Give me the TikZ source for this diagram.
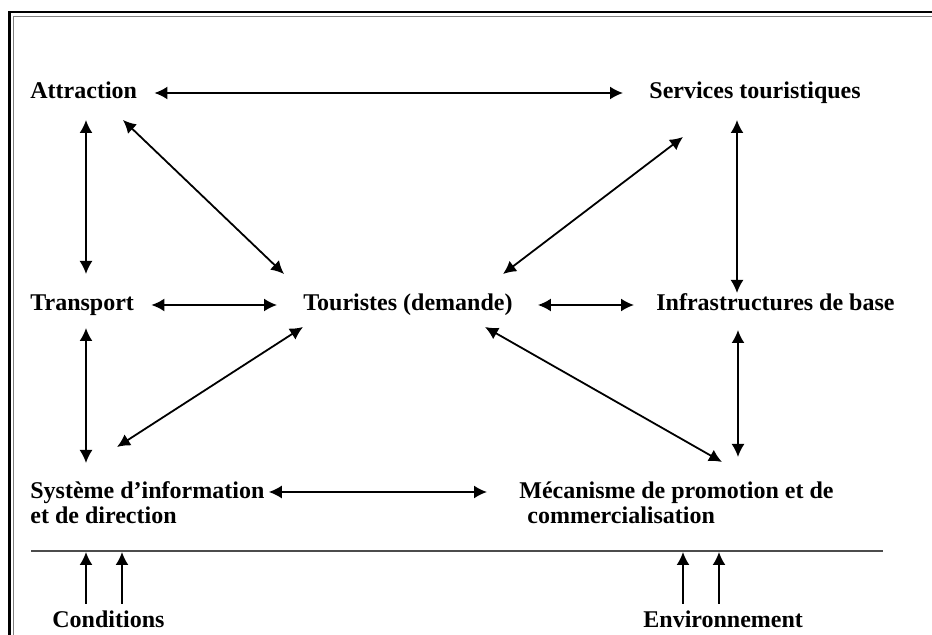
\documentclass[tikz,border=0pt]{standalone}
\usepackage{fontspec}
\setmainfont{Liberation Serif}
\usetikzlibrary{arrows.meta}

\begin{document}
\begin{tikzpicture}[x=0.5pt, y=-0.5pt,
    lbl/.style={anchor=base west, inner sep=0pt, align=left,
      font=\fontsize{12}{12.5}\selectfont\bfseries},
    link/.style={{Latex[length=6.5pt, width=6.5pt]}-{Latex[length=6.5pt, width=6.5pt]}, line width=0.9pt},
    lift/.style={-{Latex[length=6.5pt, width=6.5pt]}, line width=0.9pt}]
    \useasboundingbox (0, 0) rectangle (932, 635);
    % double frame, open to the right and below
    \draw[line width=1.3pt] (9.5, 635)--(9.5, 12)--(932, 12);
    \draw[gray, line width=0.6pt] (13.5, 635)--(13.5, 16.5)--(932, 16.5);
    \node[lbl] (A) at (30, 99){Attraction};
    \node[lbl] (S) at (649, 99){Services touristiques};
    \node[lbl] (T) at (30, 311){Transport};
    \node[lbl] (D) at (303, 311){Touristes (demande)};
    \node[lbl] (I) at (656, 311){Infrastructures de base};
    % base of a two-line node = baseline of its last line
    \node[lbl] (SI) at (30, 524){Système d’information\\et de direction};
    \node[lbl] (M) at (519, 524){Mécanisme de promotion et de\\\hspace*{4pt}commercialisation};
    \node[lbl] (C) at (52, 628){Conditions};
    \node[lbl] (E) at (643, 628){Environnement};
    \draw[link] ([shift={(17, -6)}]A.base east)--([shift={(-26, -6)}]S.base west);
    \draw[link] ([shift={(56, 21)}]A.base west)--([shift={(56, -37)}]T.base west);
    \draw[link] ([shift={(93, 21)}]A.base west)--([shift={(-19, -37)}]D.base west);
    \draw[link] ([shift={(88, 21)}]S.base west)--([shift={(81, -18)}]I.base west);
    \draw[link] ([shift={(34, 38)}]S.base west)--([shift={(200, -37)}]D.base west);
    \draw[link] ([shift={(17, -6)}]T.base east)--([shift={(-26, -6)}]D.base west);
    \draw[link] ([shift={(25, -6)}]D.base east)--([shift={(-22, -6)}]I.base west);
    \draw[link] ([shift={(56, 17)}]T.base west)--([shift={(56, -61)}]SI.base west);
    \draw[link] ([shift={(0, 16)}]D.base west)--([shift={(87, -77)}]SI.base west);
    \draw[link] ([shift={(182, 16)}]D.base west)--([shift={(203, -62)}]M.base west);
    \draw[link] ([shift={(82, 19)}]I.base west)--([shift={(219, -67)}]M.base west);
    \draw[link] ([shift={(4, -32)}]SI.base east)--([shift={(-32, -32)}]M.base west);
    % separation line
    \coordinate (L) at (31, 551);
    \coordinate (R) at (883, 551);
    \draw[gray!60!black, line width=1pt] (L)--(R);
    \draw[lift] ([shift={(34, -24)}]C.base west)--([shift={(34, -76)}]C.base west);
    \draw[lift] ([shift={(70, -24)}]C.base west)--([shift={(70, -76)}]C.base west);
    \draw[lift] ([shift={(40, -24)}]E.base west)--([shift={(40, -76)}]E.base west);
    \draw[lift] ([shift={(76, -24)}]E.base west)--([shift={(76, -76)}]E.base west);
  \end{tikzpicture}
\end{document}
